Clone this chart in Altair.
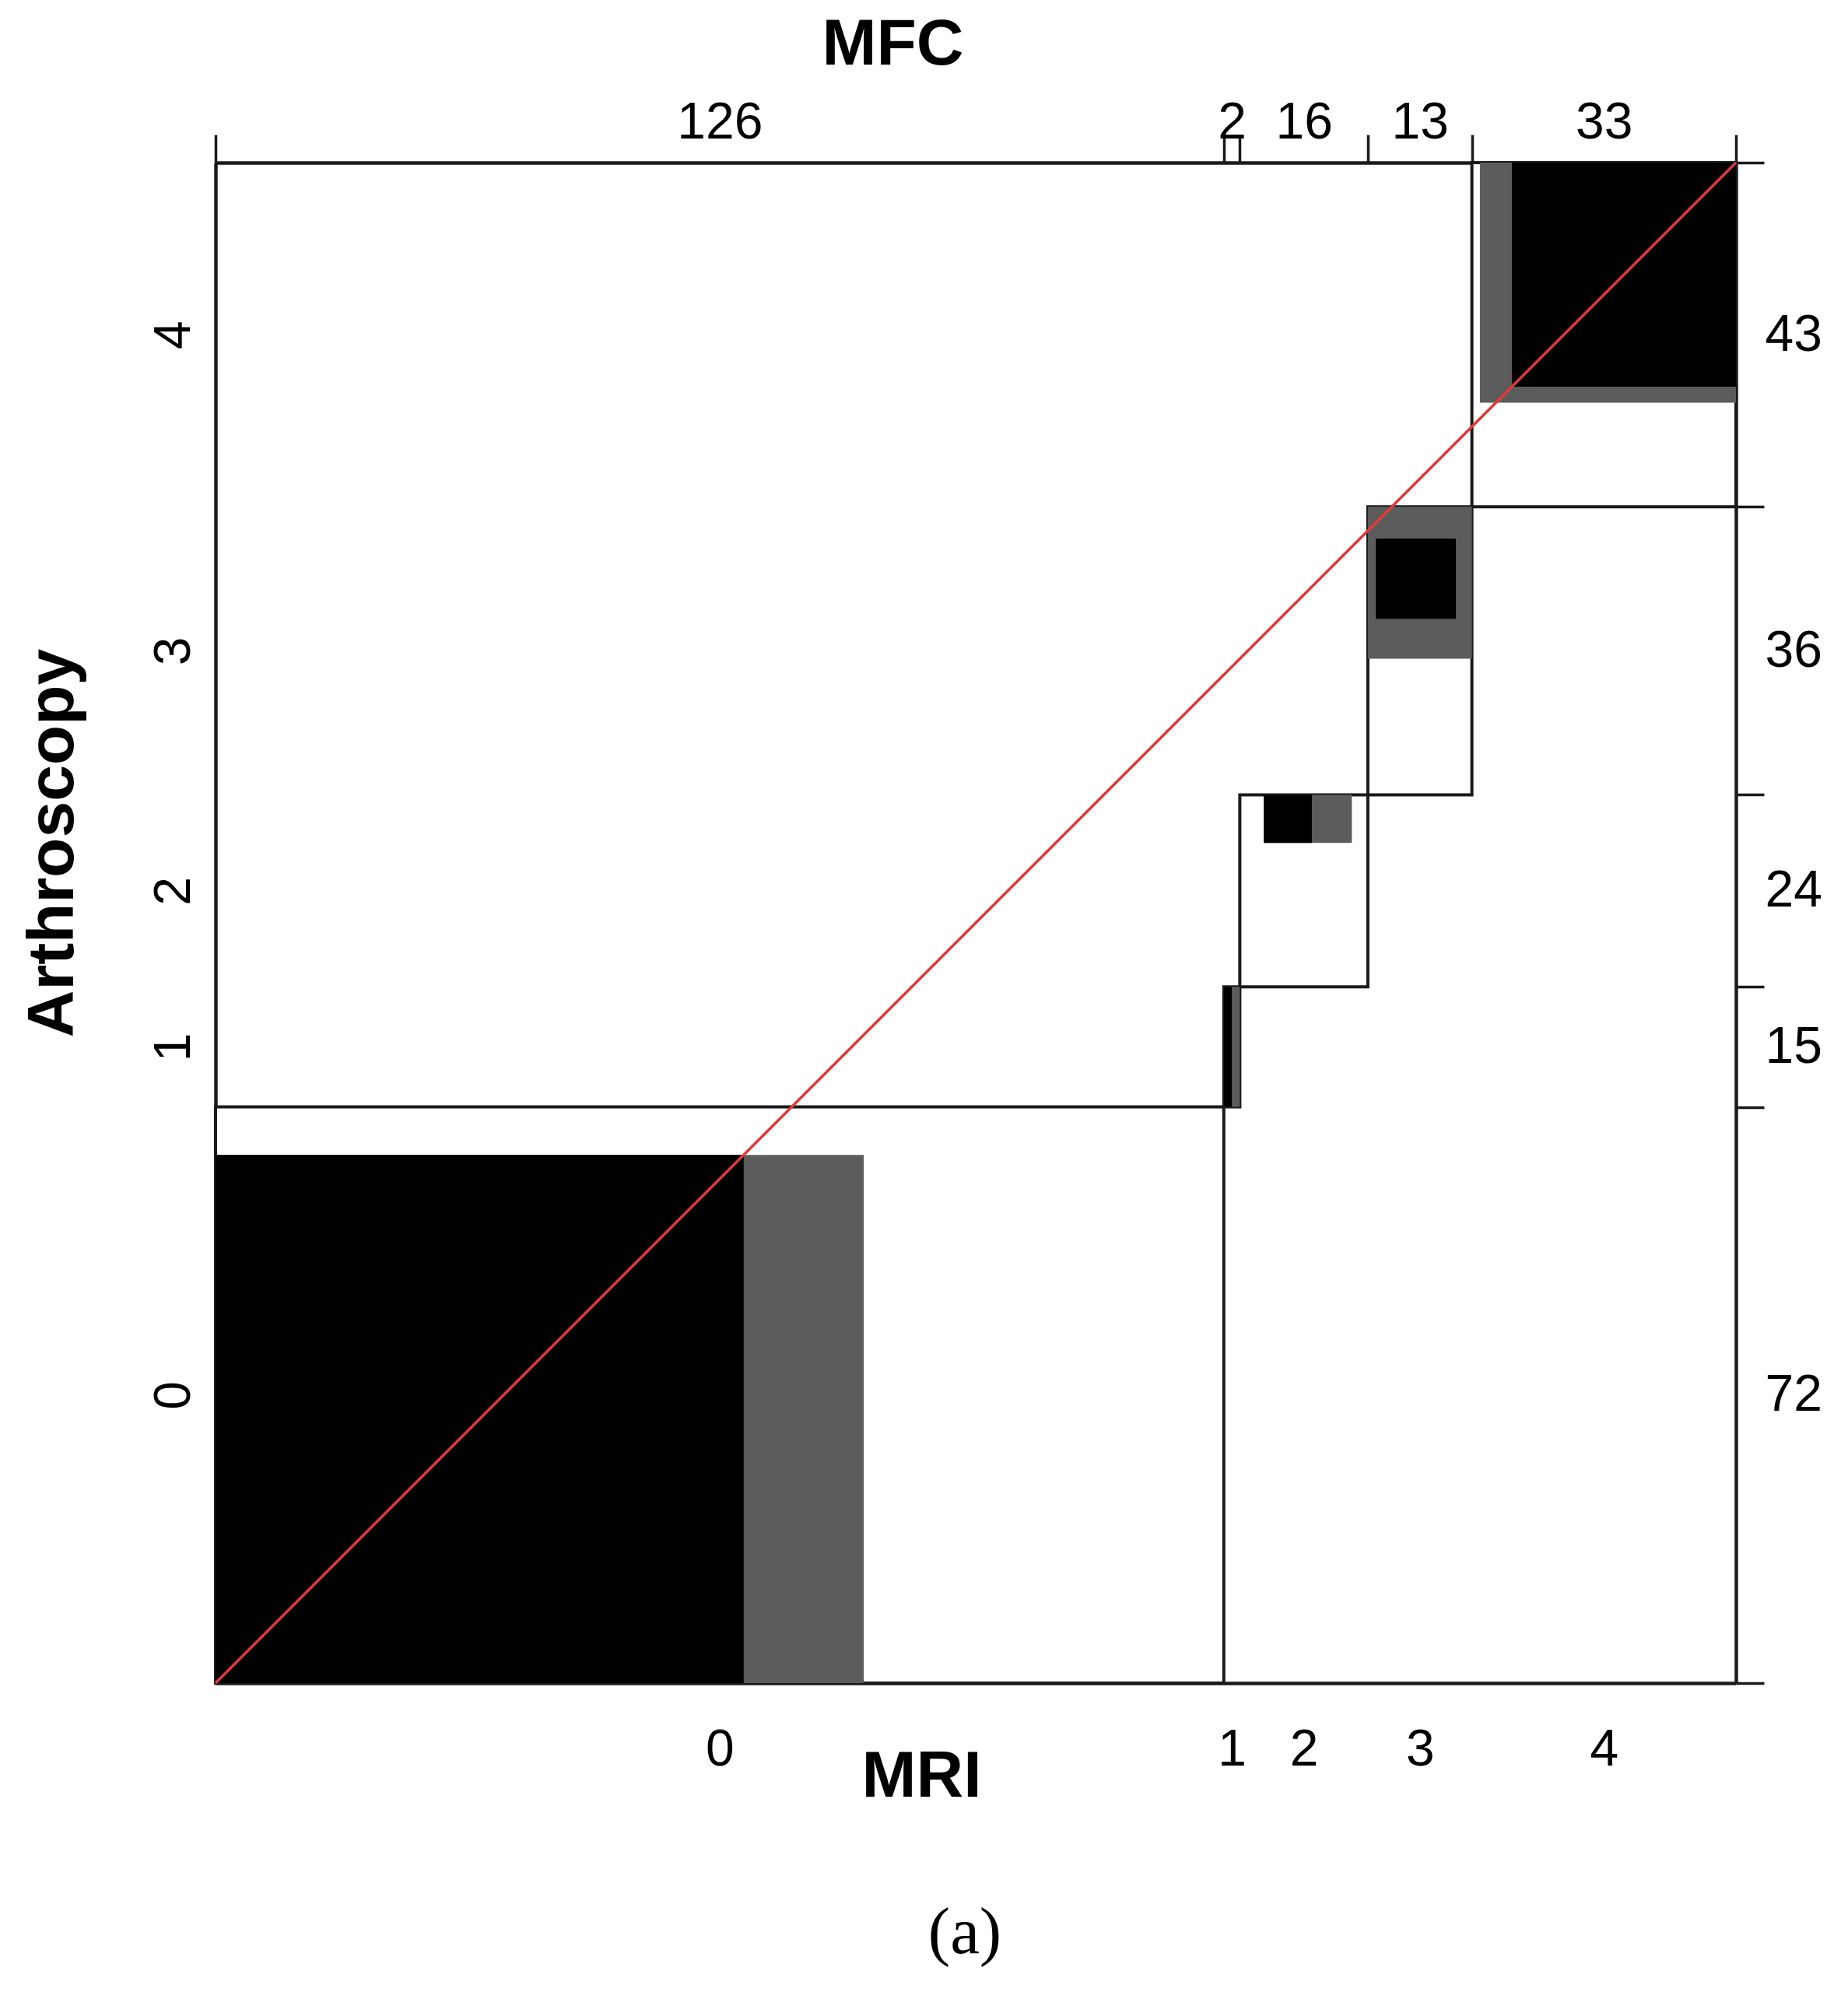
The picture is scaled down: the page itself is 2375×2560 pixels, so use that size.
import altair as alt
import numpy as np
import pandas as pd

# ---- data ----
categories = ["0", "1", "2", "3", "4"]
mri_totals = [126, 2, 16, 13, 33]        # column (MRI) marginal totals
arthro_totals = [72, 15, 24, 36, 43]     # row (Arthroscopy) marginal totals

# exact agreement boxes (count units, offset inside each category block)
agree_x_off = [0, 0, 3, 1, 5]
agree_w = [66, 1, 6, 10, 28]
agree_y_off = [0, 0, 18, 22, 15]
agree_h = [66, 15, 6, 10, 28]

# partial agreement boxes (count units, offset inside each category block)
partial_x_off = [0, 0, 3, 0, 1]
partial_w = [81, 2, 11, 13, 32]
partial_y_off = [0, 0, 18, 17, 13]
partial_h = [66, 15, 6, 19, 30]

# ---- derived tables ----
N = int(sum(mri_totals))
xs = np.concatenate([[0], np.cumsum(mri_totals)]).astype(float)
ys = np.concatenate([[0], np.cumsum(arthro_totals)]).astype(float)
x_centers = [float((xs[i] + xs[i + 1]) / 2) for i in range(len(categories))]
y_centers = [float((ys[i] + ys[i + 1]) / 2) for i in range(len(categories))]

blocks = pd.DataFrame({"cat": categories, "x0": xs[:-1], "x1": xs[1:],
                       "y0": ys[:-1], "y1": ys[1:]})
px0 = xs[:-1] + np.array(partial_x_off)
py0 = ys[:-1] + np.array(partial_y_off)
partial = pd.DataFrame({"cat": categories, "x0": px0, "x1": px0 + np.array(partial_w),
                        "y0": py0, "y1": py0 + np.array(partial_h)})
ax0 = xs[:-1] + np.array(agree_x_off)
ay0 = ys[:-1] + np.array(agree_y_off)
agree = pd.DataFrame({"cat": categories, "x0": ax0, "x1": ax0 + np.array(agree_w),
                      "y0": ay0, "y1": ay0 + np.array(agree_h)})
diag = pd.DataFrame({"x": [0, N], "y": [0, N]})


def label_expr(values, labels):
    vals = ",".join(repr(float(v)) for v in values)
    labs = ",".join("'" + str(l) + "'" for l in labels)
    return f"[{labs}][indexof([{vals}], datum.value)]"


FONT = "Liberation Sans"
LINE = "#1a1a1a"
LAB = 66
TIT = 84
FRAME_W = 4.5
RECT_W = 4
TICK_W = 3.5

xsc = alt.Scale(domain=[0, N], nice=False, zero=False)
ysc = alt.Scale(domain=[0, N], nice=False, zero=False)

bottom_axis = alt.Axis(orient="bottom", values=x_centers,
                       labelExpr=label_expr(x_centers, categories),
                       ticks=False, tickSize=0, grid=False,
                       domain=True, domainColor=LINE, domainWidth=FRAME_W,
                       labelFont=FONT, labelFontSize=LAB, labelColor="black",
                       labelPadding=105, labelBaseline="alphabetic", labelAngle=0,
                       labelFlush=False, labelOverlap=False,
                       title="MRI", titleFont=FONT, titleFontSize=TIT,
                       titleFontWeight="bold", titleColor="black",
                       titleX=907, titleY=145, titleAlign="center",
                       titleBaseline="alphabetic")
left_axis = alt.Axis(orient="left", values=y_centers,
                     labelExpr=label_expr(y_centers, categories),
                     ticks=False, tickSize=0, grid=False,
                     domain=True, domainColor=LINE, domainWidth=FRAME_W,
                     labelFont=FONT, labelFontSize=LAB, labelColor="black",
                     labelAngle=270, labelAlign="center", labelBaseline="alphabetic",
                     labelPadding=34, labelFlush=False, labelOverlap=False,
                     title="Arthroscopy", titleFont=FONT, titleFontSize=TIT,
                     titleFontWeight="bold", titleColor="black",
                     titleAngle=270, titleX=-184, titleY=874, titleAlign="center",
                     titleBaseline="alphabetic")
top_tick_axis = alt.Axis(orient="top", values=[float(v) for v in xs],
                         labels=False, ticks=True, tickSize=36, tickColor=LINE,
                         tickWidth=TICK_W, grid=False, domain=True, domainColor=LINE,
                         domainWidth=FRAME_W, title=None)
right_tick_axis = alt.Axis(orient="right", values=[float(v) for v in ys],
                           labels=False, ticks=True, tickSize=36, tickColor=LINE,
                           tickWidth=TICK_W, grid=False, domain=True, domainColor=LINE,
                           domainWidth=FRAME_W, title=None)
top_label_axis = alt.Axis(orient="top", values=x_centers,
                          labelExpr=label_expr(x_centers, mri_totals),
                          ticks=False, tickSize=0, grid=False, domain=False,
                          labelFont=FONT, labelFontSize=LAB, labelColor="black",
                          labelPadding=32, labelBaseline="alphabetic", labelAngle=0,
                          labelFlush=False, labelOverlap=False,
                          title="MFC", titleFont=FONT, titleFontSize=TIT,
                          titleFontWeight="bold", titleColor="black",
                          titleX=870, titleY=-127, titleAlign="center",
                          titleBaseline="alphabetic")
right_label_axis = alt.Axis(orient="right", values=y_centers,
                            labelExpr=label_expr(y_centers, arthro_totals),
                            ticks=False, tickSize=0, grid=False, domain=False,
                            labelFont=FONT, labelFontSize=LAB, labelColor="black",
                            labelPadding=37, labelAlign="left", labelBaseline="middle",
                            labelAngle=0, labelFlush=False, labelOverlap=False,
                            title=None)

base = alt.Chart(blocks)

block_layer = base.mark_rect(fill="white", stroke=LINE, strokeWidth=RECT_W).encode(
    x=alt.X("x0:Q", scale=xsc, axis=bottom_axis), x2="x1:Q",
    y=alt.Y("y0:Q", scale=ysc, axis=left_axis), y2="y1:Q")

tick_layer = base.mark_rect(opacity=0).encode(
    x=alt.X("x0:Q", scale=xsc, axis=top_tick_axis), x2="x1:Q",
    y=alt.Y("y0:Q", scale=ysc, axis=right_tick_axis), y2="y1:Q")

label_layer = base.mark_rect(opacity=0).encode(
    x=alt.X("x0:Q", scale=xsc, axis=top_label_axis), x2="x1:Q",
    y=alt.Y("y0:Q", scale=ysc, axis=right_label_axis), y2="y1:Q")

partial_layer = alt.Chart(partial).mark_rect(fill="#5c5c5c", stroke=None).encode(
    x=alt.X("x0:Q", scale=xsc, axis=None), x2="x1:Q",
    y=alt.Y("y0:Q", scale=ysc, axis=None), y2="y1:Q")

agree_layer = alt.Chart(agree).mark_rect(fill="black", stroke=None).encode(
    x=alt.X("x0:Q", scale=xsc, axis=None), x2="x1:Q",
    y=alt.Y("y0:Q", scale=ysc, axis=None), y2="y1:Q")

diag_layer = alt.Chart(diag).mark_line(color="#df3a3a", strokeWidth=3.5).encode(
    x=alt.X("x:Q", scale=xsc, axis=None),
    y=alt.Y("y:Q", scale=ysc, axis=None))

chart = alt.layer(block_layer, tick_layer, label_layer, partial_layer,
                  agree_layer, diag_layer).resolve_axis(
    x="independent", y="independent"
).properties(
    width=1954, height=1954,
    autosize=alt.AutoSizeParams(type="none"),
    padding={"left": 269, "top": 201, "right": 136, "bottom": 389},
    title=alt.TitleParams("(a)", orient="bottom", frame="group", anchor="middle",
                          offset=118, baseline="top", dx=-14,
                          font="Liberation Serif", fontSize=85,
                          fontWeight="normal", color="black"),
).configure_view(stroke=None).configure(background="white")

chart.save("out.html", embed_options={"renderer": "svg", "actions": False})
